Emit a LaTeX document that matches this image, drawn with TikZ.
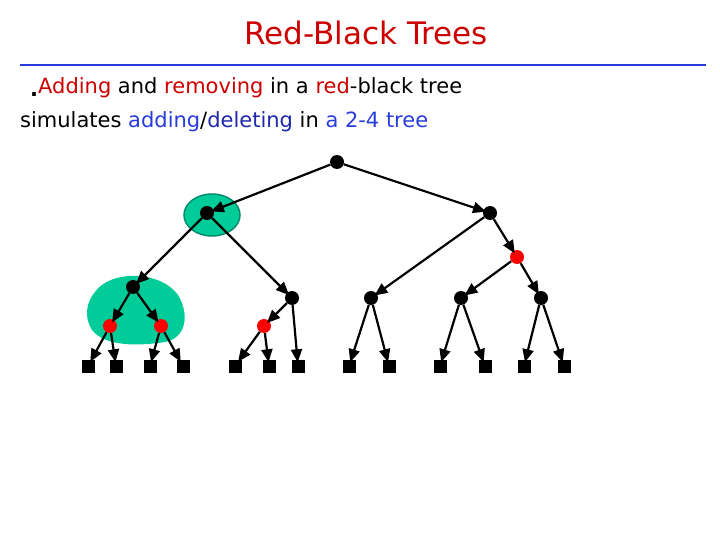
\documentclass[tikz,border=0pt]{standalone}
\usepackage{fontspec}
\setmainfont{DejaVu Sans}
\usetikzlibrary{arrows.meta}
\definecolor{tred}{RGB}{204,0,0}
\definecolor{tblue}{RGB}{40,60,220}
\definecolor{tnavy}{RGB}{30,40,170}
\definecolor{teal1}{RGB}{0,204,153}
\definecolor{teal2}{RGB}{0,140,110}
\begin{document}
\begin{tikzpicture}[x=1pt,y=-1pt,
  bn/.style={circle,fill=black,inner sep=0,minimum size=14},
  rn/.style={circle,fill=red,inner sep=0,minimum size=14},
  lf/.style={rectangle,fill=black,inner sep=0,minimum size=13},
  ed/.style={line width=2.2pt,-{Triangle[length=13pt,width=11pt]},shorten >=-3pt}]
\useasboundingbox (0,0) rectangle (720,540);
\node[text=tred,font=\fontsize{31}{34}\selectfont] (title) at (366,33) {Red-Black Trees};
\draw[tblue,line width=2.5pt] (20,65) -- (706,65);
\node[anchor=west,font=\fontsize{21}{24}\selectfont,inner sep=0] (l1) at (30,88) {\raisebox{-3pt}{\bfseries .}\textcolor{tred}{Adding} and \textcolor{tred}{removing} in a \textcolor{tred}{red}-black tree};
\node[anchor=west,font=\fontsize{21}{24}\selectfont,inner sep=0] (l2) at (20,122) {simulates \textcolor{tblue}{adding}/\textcolor{tnavy}{deleting} in \textcolor{tblue}{a 2-4 tree}};
% blobs
\draw[fill=teal1,draw=teal2,line width=1.5pt] (212,215) ellipse [x radius=28,y radius=21];
\fill[teal1] (95,292) .. controls (110,270) and (160,270) .. (178,295) .. controls (190,315) and (186,338) .. (165,342) .. controls (140,346) and (105,347) .. (92,330) .. controls (84,318) and (86,302) .. (95,292) -- cycle;
\node[bn] (r) at (337,162) {};
\node[bn] (a) at (207,213) {};
\node[bn] (b) at (490,213) {};
\node[bn] (c) at (133,287) {};
\node[bn] (d) at (292,298) {};
\node[rn] (e) at (110,326) {};
\node[rn] (f) at (161,326) {};
\node[rn] (g) at (264,326) {};
\node[rn] (h) at (517,257) {};
\node[bn] (i) at (371,298) {};
\node[bn] (j) at (461,298) {};
\node[bn] (k) at (541,298) {};
\foreach \n/\x in {e1/88,e2/116,f1/150,f2/183,g1/235,g2/269,d2/298,i1/349,i2/389,j1/440,j2/485,k1/524,k2/564}
  \node[lf] (\n) at (\x,366) {};
\foreach \s/\t in {r/a,r/b,a/c,a/d,c/e,c/f,d/g,d/d2,b/i,b/h,h/j,h/k,e/e1,e/e2,f/f1,f/f2,g/g1,g/g2,i/i1,i/i2,j/j1,j/j2,k/k1,k/k2}
  \draw[ed] (\s) -- (\t);
\end{tikzpicture}
\end{document}
